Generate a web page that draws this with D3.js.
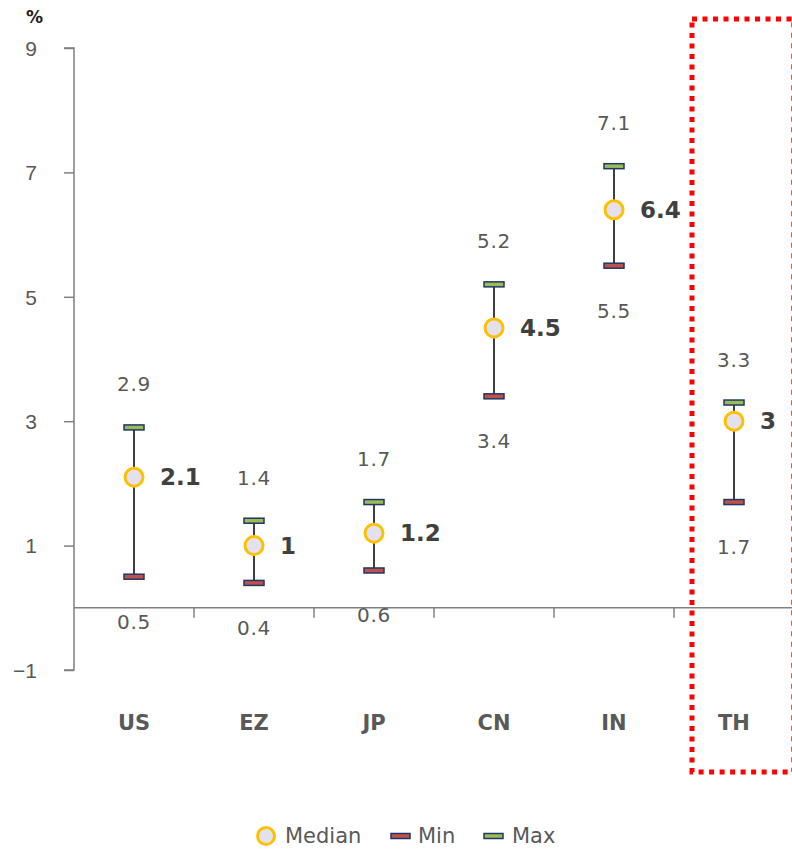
<!DOCTYPE html>
<html>
<head>
<meta charset="utf-8">
<script src="https://cdn.jsdelivr.net/npm/d3@7"></script>
<style>
  html, body { margin: 0; padding: 0; background: #fff; }
  svg { display: block; font-family: "DejaVu Sans", "Noto Sans", sans-serif; }
</style>
</head>
<body>
<svg id="chart" width="792" height="851"></svg>
<script>
// Economies and their growth forecast ranges (%)
const categories = ["US", "EZ", "JP", "CN", "IN", "TH"];
const medianValues = [2.1, 1, 1.2, 4.5, 6.4, 3];
const minValues = [0.5, 0.4, 0.6, 3.4, 5.5, 1.7];
const maxValues = [2.9, 1.4, 1.7, 5.2, 7.1, 3.3];
const yTicks = [-1, 1, 3, 5, 7, 9];
const highlighted = "TH";

const svg = d3.select("#chart");

const x = d3.scaleBand().domain(categories).range([74, 794]);
const y = d3.scaleLinear().domain([-1, 9]).range([670, 48]);

const axisColor = "#808080";
const textColor = "#595959";

// Y axis
const yAxis = svg.append("g")
  .attr("transform", "translate(74,0)")
  .call(d3.axisLeft(y).tickValues(yTicks).tickSize(10).tickPadding(27)
    .tickFormat(d => d < 0 ? "\u2212" + Math.abs(d) : d));
yAxis.select(".domain").attr("stroke", axisColor).attr("stroke-width", 1.5)
  .attr("d", `M-10,${y(9)}H0V${y(-1)}H-10`);
yAxis.selectAll(".tick line").attr("stroke", axisColor).attr("stroke-width", 1.5);
yAxis.selectAll(".tick text").attr("fill", textColor).attr("font-size", 21)
  .attr("dy", "0.35em");

// Unit label
svg.append("text").attr("x", 26).attr("y", 23).attr("font-size", 17)
  .attr("font-weight", "bold").attr("fill", "#222").text("%");

// X axis along zero with category boundary ticks
svg.append("line")
  .attr("x1", 74).attr("x2", 794).attr("y1", y(0)).attr("y2", y(0))
  .attr("stroke", axisColor).attr("stroke-width", 1.5);
svg.append("g").selectAll("line")
  .data(categories.slice(1))
  .join("line")
  .attr("x1", d => x(d)).attr("x2", d => x(d))
  .attr("y1", y(0)).attr("y2", y(0) + 10)
  .attr("stroke", axisColor).attr("stroke-width", 1.5);

// Category labels
svg.append("g").selectAll("text")
  .data(categories)
  .join("text")
  .attr("x", d => x(d) + x.bandwidth() / 2)
  .attr("y", 730)
  .attr("text-anchor", "middle")
  .attr("font-size", 21).attr("font-weight", "bold")
  .attr("fill", textColor)
  .text(d => d);

const rows = categories.map((c, i) => ({
  c, med: medianValues[i], min: minValues[i], max: maxValues[i]
}));
const cx = d => x(d.c) + x.bandwidth() / 2;

const g = svg.append("g");

// Range whiskers
g.selectAll(".whisker").data(rows).join("line")
  .attr("x1", cx).attr("x2", cx)
  .attr("y1", d => y(d.max)).attr("y2", d => y(d.min))
  .attr("stroke", "#404040").attr("stroke-width", 2);

// Cap markers: navy outline, coloured core
function cap(sel, key, core) {
  sel.selectAll(".cap-" + key).data(rows).join("rect")
    .attr("x", d => cx(d) - 10).attr("y", d => y(d[key]) - 2.5)
    .attr("width", 20).attr("height", 5)
    .attr("fill", core).attr("stroke", "#1F3864").attr("stroke-width", 1.5);
}
cap(g, "min", "#C0504D");
cap(g, "max", "#9BBB59");

// Median markers
g.selectAll(".median").data(rows).join("circle")
  .attr("cx", cx).attr("cy", d => y(d.med)).attr("r", 9)
  .attr("fill", "#E4E1EE").attr("stroke", "#FFC000").attr("stroke-width", 3);

// Value labels
g.selectAll(".max-label").data(rows).join("text")
  .attr("x", cx).attr("y", d => y(d.max) - 43)
  .attr("text-anchor", "middle").attr("dy", "0.35em")
  .attr("font-size", 20).attr("letter-spacing", 0.8).attr("fill", textColor)
  .text(d => d.max);
g.selectAll(".min-label").data(rows).join("text")
  .attr("x", cx).attr("y", d => y(d.min) + 45)
  .attr("text-anchor", "middle").attr("dy", "0.35em")
  .attr("font-size", 20).attr("letter-spacing", 0.8).attr("fill", textColor)
  .text(d => d.min);
g.selectAll(".med-label").data(rows).join("text")
  .attr("x", d => cx(d) + 26).attr("y", d => y(d.med))
  .attr("dy", "0.35em")
  .attr("font-size", 23).attr("font-weight", "bold").attr("fill", "#404040")
  .text(d => d.med);

// Highlight frame around Thailand
svg.append("rect")
  .attr("x", x(highlighted) + 18).attr("y", 19)
  .attr("width", 101.8).attr("height", 753)
  .attr("fill", "none").attr("stroke", "#FF0000")
  .attr("stroke-width", 5).attr("stroke-dasharray", "5,5.5");

// Legend
const legend = svg.append("g").attr("transform", "translate(0,836)");
legend.append("circle").attr("cx", 266).attr("cy", 0).attr("r", 8.5)
  .attr("fill", "#E4E1EE").attr("stroke", "#FFC000").attr("stroke-width", 3);
legend.append("text").attr("x", 285).attr("y", 0).attr("dy", "0.35em")
  .attr("font-size", 21).attr("fill", textColor).text("Median");
legend.append("rect").attr("x", 391).attr("y", -2.5).attr("width", 19).attr("height", 5)
  .attr("fill", "#C0504D").attr("stroke", "#1F3864").attr("stroke-width", 1.5);
legend.append("text").attr("x", 418).attr("y", 0).attr("dy", "0.35em")
  .attr("font-size", 21).attr("fill", textColor).text("Min");
legend.append("rect").attr("x", 484).attr("y", -2.5).attr("width", 19).attr("height", 5)
  .attr("fill", "#9BBB59").attr("stroke", "#1F3864").attr("stroke-width", 1.5);
legend.append("text").attr("x", 512).attr("y", 0).attr("dy", "0.35em")
  .attr("font-size", 21).attr("fill", textColor).text("Max");
</script>
</body>
</html>
